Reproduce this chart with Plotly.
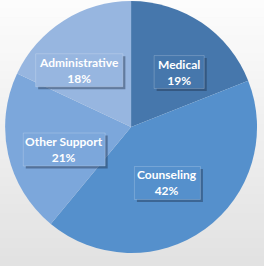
import math
import plotly.graph_objects as go

categories = ["Medical", "Counseling", "Other Support", "Administrative"]
values = [19, 42, 21, 18]
colors = ["#4677AC", "#5590CC", "#7CA7DB", "#97B6E0"]
label_r = [0.58, 0.53, 0.56, 0.61]
label_da = [7, 3, -6, -10]  # angular nudge (degrees) of label boxes

W, H = 264, 266
dom_x = [0.019, 0.974]
dom_y = [0.049, 0.996]

fig = go.Figure(go.Pie(
    labels=categories, values=values, sort=False, direction="clockwise",
    rotation=0, marker=dict(colors=colors, line=dict(width=0)),
    textinfo="none", hoverinfo="label+percent", showlegend=False,
    domain=dict(x=dom_x, y=dom_y),
))

shapes = []
# soft vertical background gradient
n = 30
top, bot = 252, 226
for i in range(n):
    c = round(top + (bot - top) * i / (n - 1))
    shapes.append(dict(type="rect", xref="paper", yref="paper", layer="below",
                       x0=0, x1=1, y0=1 - (i + 1) / n, y1=1 - i / n + 0.002,
                       fillcolor=f"rgb({c},{c},{c})", line=dict(width=0)))

cx = (dom_x[0] + dom_x[1]) / 2 * W
cy = (1 - (dom_y[0] + dom_y[1]) / 2) * H
R = min((dom_x[1] - dom_x[0]) * W, (dom_y[1] - dom_y[0]) * H) / 2
total = sum(values)
cum = 0
anns = []
for cat, v, col, rf, da in zip(categories, values, colors, label_r, label_da):
    mid = (cum + v / 2) / total * 2 * math.pi + math.radians(da)
    cum += v
    px = cx + rf * R * math.sin(mid)
    py = cy - rf * R * math.cos(mid)
    bw = 5.3 * len(cat) + 13
    bh = 33
    # drop shadow
    shapes.append(dict(type="rect", xref="paper", yref="paper", layer="above",
                       x0=(px - bw / 2 + 2.5) / W, x1=(px + bw / 2 + 2.5) / W,
                       y0=1 - (py + bh / 2 + 2.5) / H, y1=1 - (py - bh / 2 + 2.5) / H,
                       fillcolor="rgba(30,50,80,0.45)", line=dict(width=0)))
    shapes.append(dict(type="rect", xref="paper", yref="paper", layer="above",
                       x0=(px - bw / 2) / W, x1=(px + bw / 2) / W,
                       y0=1 - (py + bh / 2) / H, y1=1 - (py - bh / 2) / H,
                       fillcolor=col, line=dict(width=1, color="rgba(255,255,255,0.2)")))
    anns.append(dict(x=px / W, y=1 - py / H, xref="paper", yref="paper",
                     xanchor="center", yanchor="middle", showarrow=False,
                     align="center",
                     text=f"<b>{cat}<br>{round(v / total * 100)}%</b>",
                     font=dict(family="Lato", size=12, color="white")))

fig.update_layout(
    width=W, height=H, margin=dict(l=0, r=0, t=0, b=0),
    paper_bgcolor="#EDEDED", plot_bgcolor="rgba(0,0,0,0)",
    shapes=shapes, annotations=anns,
)
fig.write_html("out.html")
